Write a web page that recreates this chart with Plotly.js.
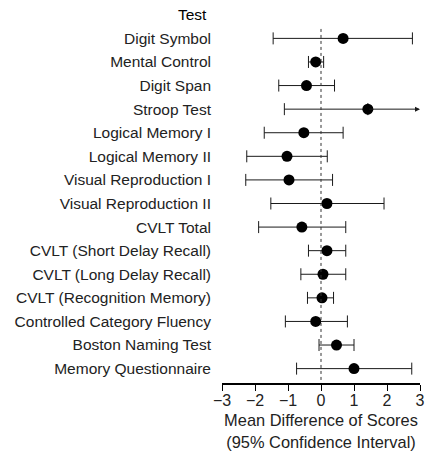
<!DOCTYPE html>
<html>
<head>
<meta charset="utf-8">
<script src="https://cdn.plot.ly/plotly-3.0.1.min.js"></script>
<style>html,body{margin:0;padding:0;background:#fff;}#chart{width:432px;height:456px;}</style>
</head>
<body>
<div id="chart"></div>
<script>
const tests = ["Digit Symbol","Mental Control","Digit Span","Stroop Test","Logical Memory I","Logical Memory II","Visual Reproduction I","Visual Reproduction II","CVLT Total","CVLT (Short Delay Recall)","CVLT (Long Delay Recall)","CVLT (Recognition Memory)","Controlled Category Fluency","Boston Naming Test","Memory Questionnaire"];
const meanDiff = [0.67,-0.16,-0.44,1.42,-0.52,-1.03,-0.97,0.18,-0.58,0.18,0.06,0.03,-0.16,0.47,1.0];
const ciLow =   [-1.45,-0.38,-1.28,-1.11,-1.72,-2.25,-2.28,-1.52,-1.89,-0.38,-0.61,-0.41,-1.08,-0.06,-0.74];
const ciHigh =  [2.77,0.08,0.41,3.5,0.67,0.19,0.35,1.91,0.75,0.75,0.75,0.38,0.80,1.0,2.75];
const xTicks = [-3,-2,-1,0,1,2,3];
const xTickText = ["\u22123","\u22122","\u22121","0","1","2","3"];
const headerLabel = "Test";
const xTitle = "Mean Difference of Scores<br>(95% Confidence Interval)";
const xMax = 3, xMin = -3;

const idx = tests.map((t,i)=>i);
const truncated = ciHigh.map(v=>v>xMax);
const errPlus = ciHigh.map((v,i)=> truncated[i] ? 0 : v-meanDiff[i]);
const errMinus = ciLow.map((v,i)=> meanDiff[i]-v);

const font = "Liberation Sans, Arial, sans-serif";
const col = "#1a1a1a";
const fs = 15.5;

const traces = [{
  type:"scatter", mode:"markers", x: meanDiff, y: idx,
  marker:{size:11, color:"#000"},
  error_x:{type:"data", symmetric:false, array: errPlus, arrayminus: errMinus, color:col, thickness:1, width:6},
  hoverinfo:"none", cliponaxis:false
}];
const annotations = [];
idx.forEach(i=>{
  if(truncated[i]){
    annotations.push({x:xMax, y:i, ax:meanDiff[i], ay:i, xref:"x", yref:"y", axref:"x", ayref:"y", text:"", showarrow:true, arrowhead:2, arrowsize:1, arrowwidth:1, arrowcolor:col, standoff:0, startstandoff:0});
  }
});
annotations.push({x:0, xref:"paper", xanchor:"right", y:-1, yref:"y", text:headerLabel, showarrow:false, font:{family:font,size:fs,color:"#000"}, xshift:-13});

const shapes = [{type:"line", xref:"x", yref:"y", x0:0, x1:0, y0:-0.4, y1:14.61, line:{color:"#333", width:1, dash:"dot"}}];

const layout = {
  width:432, height:456,
  margin:{l:222, r:12, t:3, b:73},
  paper_bgcolor:"#fff", plot_bgcolor:"#fff",
  showlegend:false,
  font:{family:font, size:fs, color:"#222"},
  xaxis:{range:[xMin,xMax], tickvals:xTicks, ticktext:xTickText, showgrid:false, zeroline:false,
    showline:true, linecolor:"#000", linewidth:1.5, ticks:"outside", ticklen:6, tickwidth:1, tickcolor:"#000",
    tickfont:{family:font,size:16,color:"#222"}, ticklabelstandoff:-4,
    title:{text:xTitle, font:{family:font,size:16.4,color:"#222"}, standoff:7}},
  yaxis:{range:[14.61,-1.5], tickvals:idx, ticktext:tests, showgrid:false, zeroline:false, showline:false, ticks:"",
    tickfont:{family:font,size:fs,color:"#222"}, ticklabelstandoff:10},
  shapes: shapes,
  annotations: annotations
};
Plotly.newPlot("chart", traces, layout, {staticPlot:true, displayModeBar:false});
</script>
</body>
</html>
